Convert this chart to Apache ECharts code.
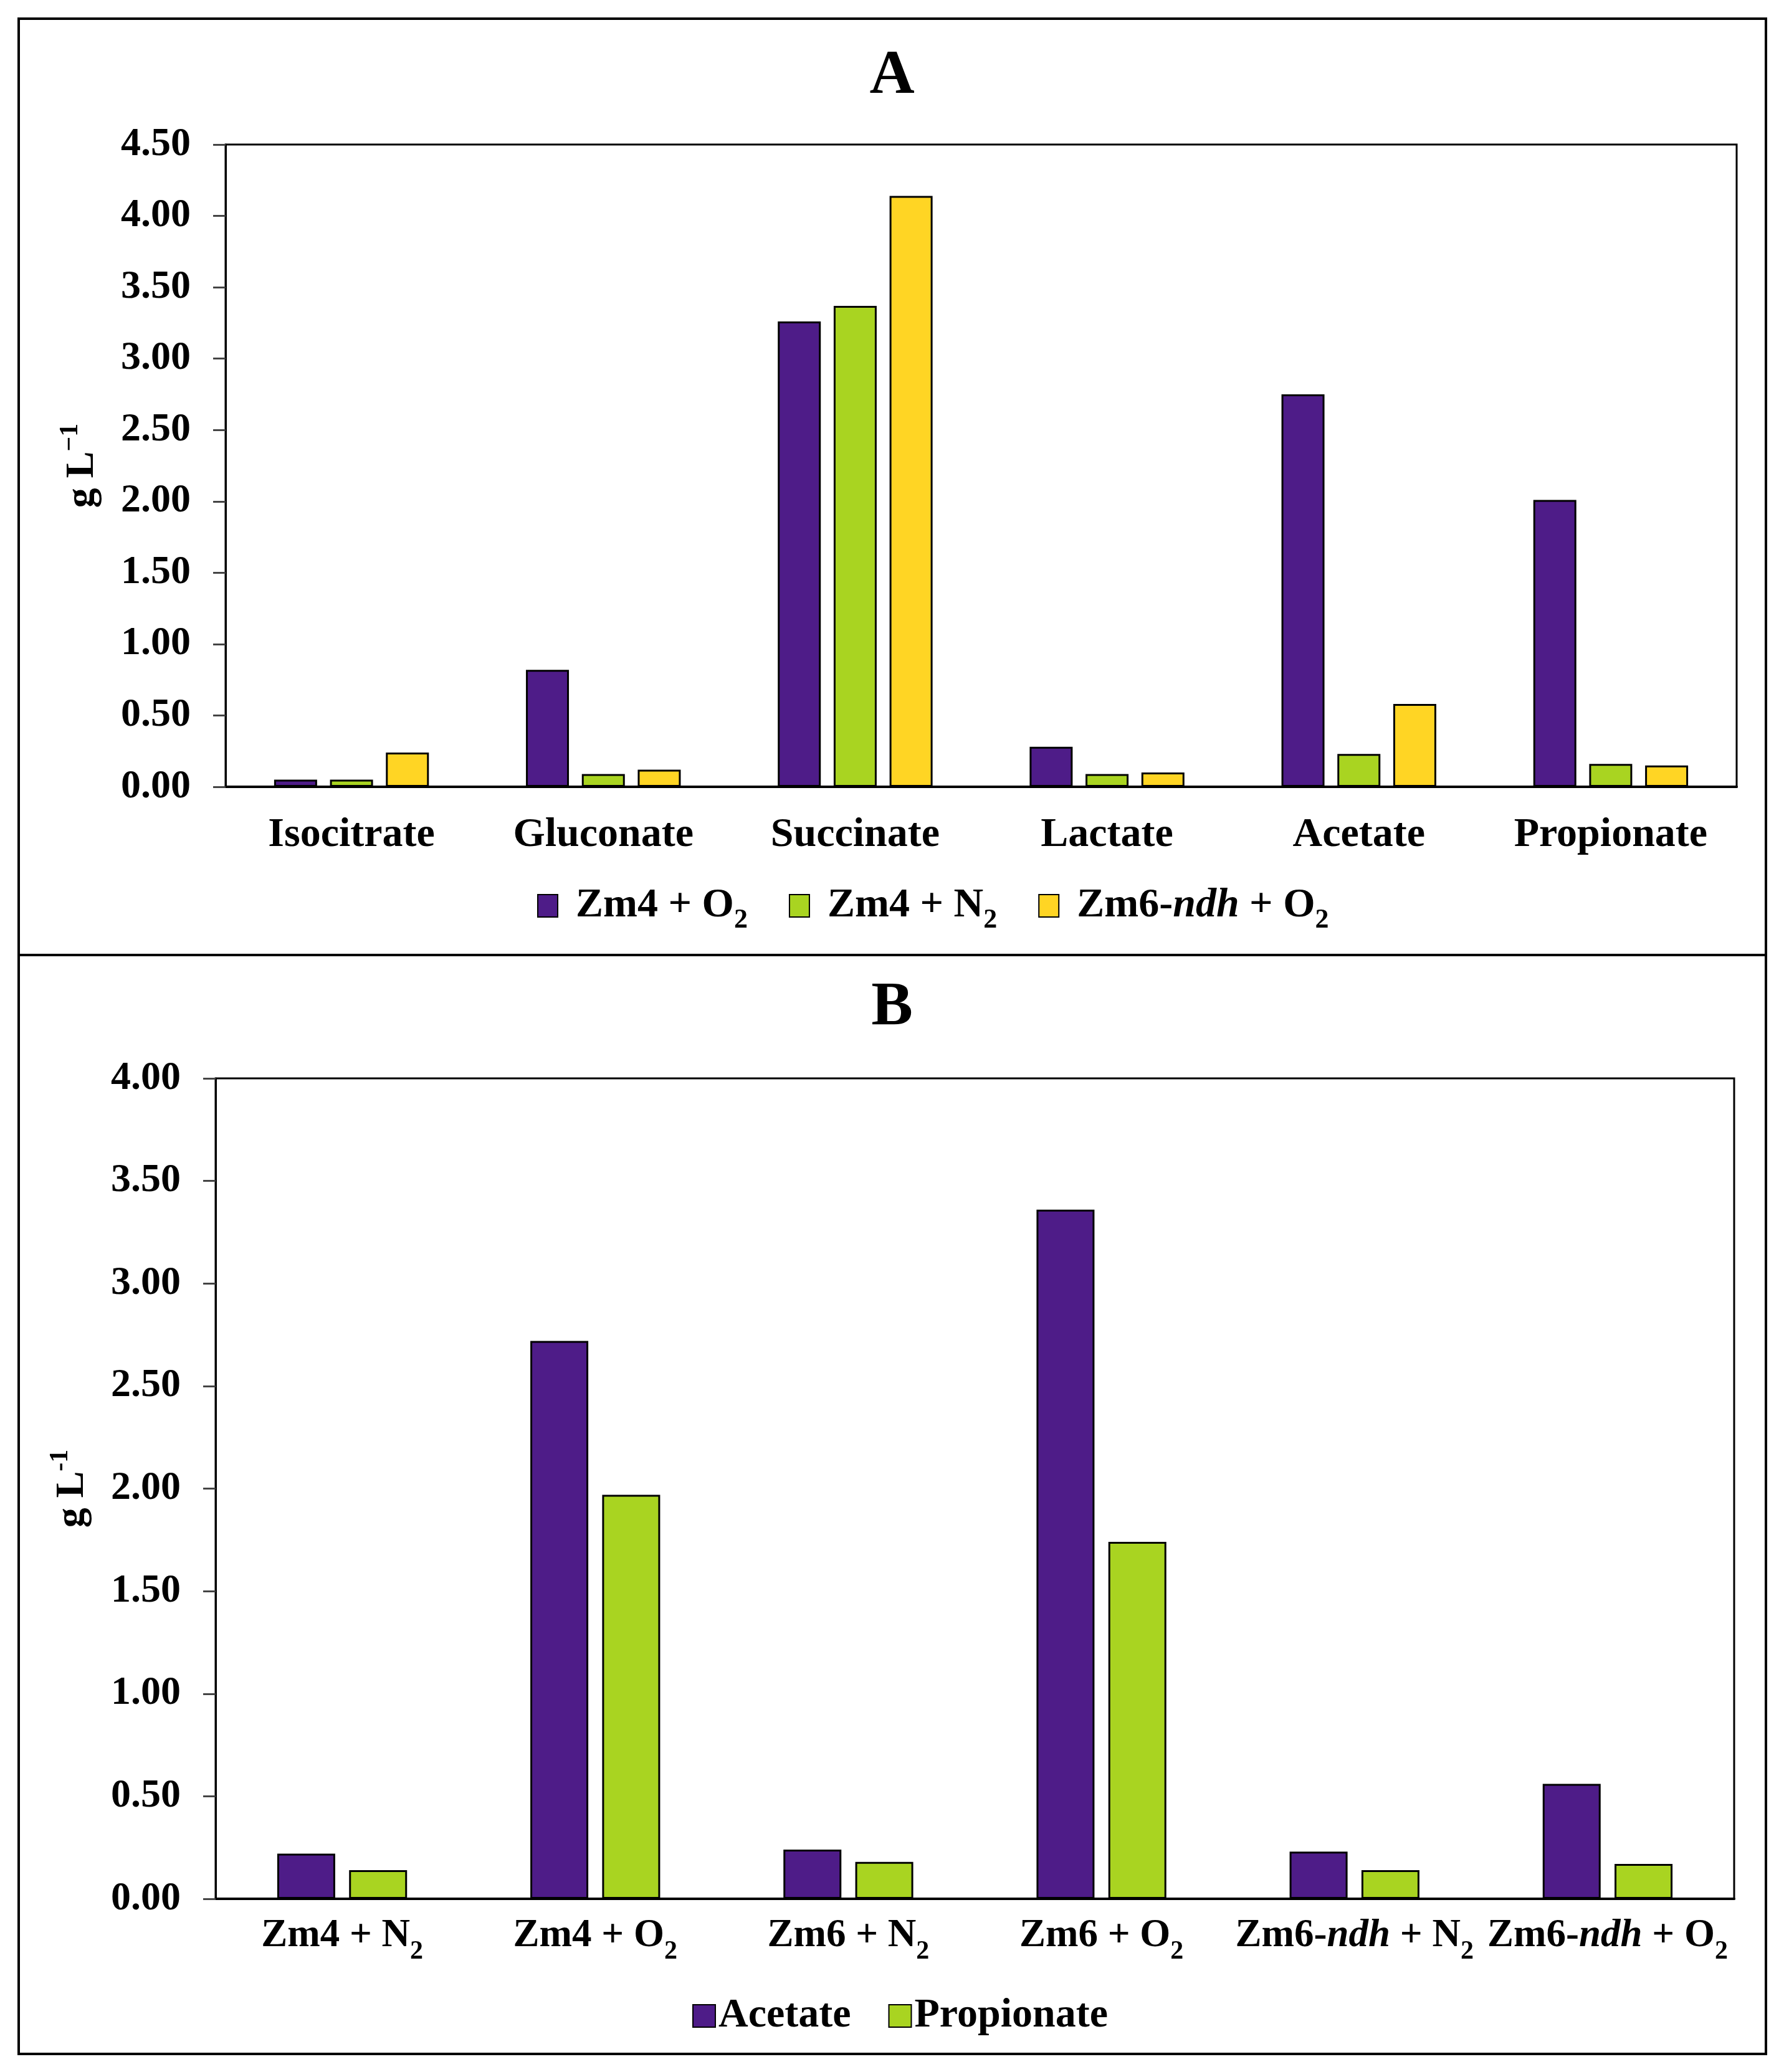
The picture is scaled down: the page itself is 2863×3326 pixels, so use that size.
<!DOCTYPE html>
<html>
<head>
<meta charset="utf-8">
<script src="https://cdn.jsdelivr.net/npm/echarts@6/dist/echarts.min.js"></script>
<style>html,body{margin:0;padding:0;background:#fff;}#c{width:2863px;height:3326px;}</style>
</head>
<body>
<div id="c"></div>
<script>
// Panel A data
const categoriesA = ['Isocitrate', 'Gluconate', 'Succinate', 'Lactate', 'Acetate', 'Propionate'];
const seriesNamesA = ['Zm4 + O2', 'Zm4 + N2', 'Zm6-ndh + O2'];
const zm4O2 = [0.05, 0.82, 3.26, 0.28, 2.75, 2.01];
const zm4N2 = [0.05, 0.09, 3.37, 0.09, 0.23, 0.16];
const zm6ndhO2 = [0.24, 0.12, 4.14, 0.10, 0.58, 0.15];
const ticksA = { min: 0, max: 4.5, interval: 0.5 };

// Panel B data
const categoriesB = ['Zm4 + N2', 'Zm4 + O2', 'Zm6 + N2', 'Zm6 + O2', 'Zm6-ndh + N2', 'Zm6-ndh + O2'];
const seriesNamesB = ['Acetate', 'Propionate'];
const acetateB = [0.22, 2.72, 0.24, 3.36, 0.23, 0.56];
const propionateB = [0.14, 1.97, 0.18, 1.74, 0.14, 0.17];
const ticksB = { min: 0, max: 4.0, interval: 0.5 };

const FONT = '"Liberation Serif", "Times New Roman", serif';
const PURPLE = '#4E1C88', GREEN = '#A9D421', YELLOW = '#FFD524';
const FS = 64;   // tick labels
const FL = 66;   // category labels / legend

function makeRich(main, small) {
  return {
    b: { fontFamily: FONT, fontWeight: 'bold', fontSize: main, color: '#000', lineHeight: 92, verticalAlign: 'middle' },
    i: { fontFamily: FONT, fontWeight: 'bold', fontStyle: 'italic', fontSize: main, color: '#000', lineHeight: 92, verticalAlign: 'middle' },
    sub: { fontFamily: FONT, fontWeight: 'bold', fontSize: small, color: '#000', lineHeight: 92, verticalAlign: 'bottom' },
    n: { fontFamily: FONT, fontWeight: 'bold', fontSize: FS, color: '#000', lineHeight: 80, verticalAlign: 'middle' },
    sup: { fontFamily: FONT, fontWeight: 'bold', fontSize: 42, color: '#000', lineHeight: 80, verticalAlign: 'top' },
    g: { width: 24 }
  };
}
const rich = makeRich(FL, 44);
const richB = makeRich(63, 42);

function toRich(s) {
  // "Zm6-ndh + O2" -> rich text with italic ndh and subscript 2
  let m = s.match(/^(.*?)(-ndh)?( \+ )([ON])2$/);
  if (!m) return '{b|' + s + '}';
  let out = '{b|' + m[1] + (m[2] ? '-' : '') + '}';
  if (m[2]) out += '{i|ndh}';
  out += '{b|' + m[3] + m[4] + '}{sub|2}';
  return out;
}

const chart = echarts.init(document.getElementById('c'), null, { renderer: 'canvas' });

const yAxisCommon = {
  type: 'value',
  splitLine: { show: false },
  axisLine: { show: true, lineStyle: { color: '#000', width: 3 } },
  axisTick: { show: true, length: 20, lineStyle: { color: '#444', width: 3 } },
  axisLabel: { fontFamily: FONT, fontWeight: 'bold', fontSize: FS, color: '#000', margin: 56,
               formatter: v => v.toFixed(2) },
  nameLocation: 'middle',
  nameRotate: 90
};

const xAxisCommon = {
  type: 'category',
  axisLine: { show: true, lineStyle: { color: '#000', width: 4 } },
  axisTick: { show: false },
  axisLabel: { fontFamily: FONT, fontWeight: 'bold', fontSize: FL, color: '#000', interval: 0 }
};

const option = {
  backgroundColor: '#fff',
  animation: false,
  title: [
    { text: 'A', left: 'center', top: 68, textStyle: { fontFamily: FONT, fontWeight: 'bold', fontSize: 100, color: '#000' } },
    { text: 'B', left: 'center', top: 1563, textStyle: { fontFamily: FONT, fontWeight: 'bold', fontSize: 100, color: '#000' } }
  ],
  legend: [
    {
      data: seriesNamesA,
      left: 857, top: 1416,
      icon: 'rect', itemWidth: 32, itemHeight: 36, itemGap: 66,
      itemStyle: { borderColor: '#000', borderWidth: 2 },
      formatter: n => '{g| }' + toRich(n),
      textStyle: { fontFamily: FONT, fontWeight: 'bold', fontSize: FL, color: '#000', rich: rich }
    },
    {
      data: seriesNamesB,
      left: 1106, top: 3198,
      icon: 'rect', itemWidth: 36, itemHeight: 36, itemGap: 60,
      itemStyle: { borderColor: '#000', borderWidth: 2 },
      formatter: n => '{b|' + n + '}',
      textStyle: { fontFamily: FONT, fontWeight: 'bold', fontSize: FL, color: '#000', rich: rich }
    }
  ],
  grid: [
    { left: 362, top: 232, width: 2787 - 362, height: 1263 - 232, show: true, borderColor: '#000', borderWidth: 3, backgroundColor: '#fff' },
    { left: 346, top: 1731, width: 2783 - 346, height: 3048 - 1731, show: true, borderColor: '#000', borderWidth: 3, backgroundColor: '#fff' }
  ],
  xAxis: [
    Object.assign({}, xAxisCommon, { gridIndex: 0, data: categoriesA,
      axisLabel: Object.assign({}, xAxisCommon.axisLabel, { margin: 32, rich: rich, formatter: v => '{b|' + v + '}' }) }),
    Object.assign({}, xAxisCommon, { gridIndex: 1, data: categoriesB,
      axisLabel: Object.assign({}, xAxisCommon.axisLabel, { margin: 14, rich: richB, formatter: v => toRich(v) }) })
  ],
  yAxis: [
    Object.assign({}, yAxisCommon, { gridIndex: 0, min: ticksA.min, max: ticksA.max, interval: ticksA.interval,
      name: '{n|g L}{sup|\u22121}', nameGap: 190, nameTextStyle: { rich: rich } }),
    Object.assign({}, yAxisCommon, { gridIndex: 1, min: ticksB.min, max: ticksB.max, interval: ticksB.interval,
      name: '{n|g L}{sup|-1}', nameGap: 190, nameTextStyle: { rich: rich } })
  ],
  series: [
    { name: seriesNamesA[0], type: 'bar', xAxisIndex: 0, yAxisIndex: 0, data: zm4O2, barWidth: 69, barGap: '30%',
      itemStyle: { color: PURPLE, borderColor: '#000', borderWidth: 3 } },
    { name: seriesNamesA[1], type: 'bar', xAxisIndex: 0, yAxisIndex: 0, data: zm4N2, barWidth: 69, barGap: '30%',
      itemStyle: { color: GREEN, borderColor: '#000', borderWidth: 3 } },
    { name: seriesNamesA[2], type: 'bar', xAxisIndex: 0, yAxisIndex: 0, data: zm6ndhO2, barWidth: 69, barGap: '30%',
      itemStyle: { color: YELLOW, borderColor: '#000', borderWidth: 3 } },
    { name: seriesNamesB[0], type: 'bar', xAxisIndex: 1, yAxisIndex: 1, data: acetateB, barWidth: 93, barGap: '24%',
      itemStyle: { color: PURPLE, borderColor: '#000', borderWidth: 3 } },
    { name: seriesNamesB[1], type: 'bar', xAxisIndex: 1, yAxisIndex: 1, data: propionateB, barWidth: 93, barGap: '24%',
      itemStyle: { color: GREEN, borderColor: '#000', borderWidth: 3 } }
  ],
  graphic: [
    { type: 'rect', silent: true, z: 100, shape: { x: 30, y: 30, width: 2804, height: 3267 },
      style: { fill: 'none', stroke: '#000', lineWidth: 4 } },
    { type: 'line', silent: true, z: 100, shape: { x1: 30, y1: 1533, x2: 2834, y2: 1533 },
      style: { stroke: '#000', lineWidth: 4 } }
  ]
};

chart.setOption(option);
</script>
</body>
</html>
